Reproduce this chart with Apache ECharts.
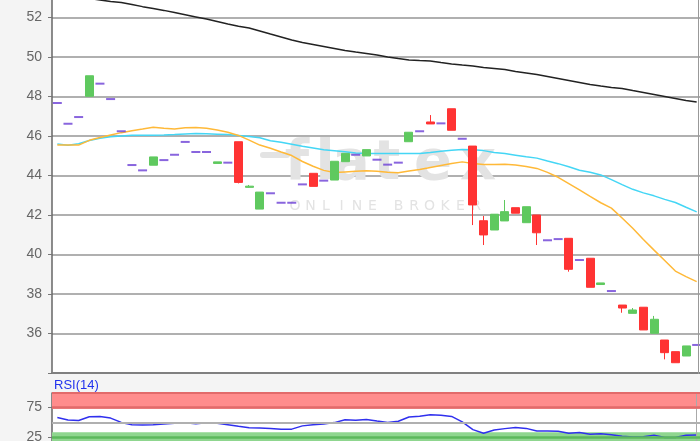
<!DOCTYPE html>
<html><head><meta charset="utf-8">
<script src="https://cdn.jsdelivr.net/npm/echarts@6/dist/echarts.min.js"></script>
<style>html,body{margin:0;padding:0;background:#f4f4f4}#c{width:700px;height:441px}</style>
</head><body><div id="c"></div>
<script>
const categories = ['D01','D02','D03','D04','D05','D06','D07','D08','D09','D10','D11','D12','D13','D14','D15','D16','D17','D18','D19','D20','D21','D22','D23','D24','D25','D26','D27','D28','D29','D30','D31','D32','D33','D34','D35','D36','D37','D38','D39','D40','D41','D42','D43','D44','D45','D46','D47','D48','D49','D50','D51','D52','D53','D54','D55','D56','D57','D58','D59','D60','D61'];
const opens  = [47.67,46.62,46.96,48.01,48.65,47.87,46.24,44.53,44.26,44.52,44.78,45.05,45.70,45.19,45.19,44.61,44.65,45.71,43.40,42.30,43.10,42.62,42.62,43.55,44.11,43.74,43.77,44.70,45.05,44.99,44.80,44.55,44.65,45.71,46.24,46.71,46.64,47.38,45.86,45.49,41.71,41.24,41.70,42.37,41.61,42.00,40.72,40.78,40.82,39.72,39.81,38.48,38.15,37.44,37.02,37.33,36.01,35.67,35.08,34.86,35.42];
const closes = [47.67,46.62,46.96,49.05,48.65,47.87,46.24,44.53,44.26,44.94,44.78,45.05,45.70,45.19,45.19,44.69,44.65,43.65,43.46,43.16,43.10,42.62,42.62,43.55,43.45,43.74,44.72,45.12,45.05,45.31,44.80,44.55,44.65,46.19,46.24,46.61,46.64,46.29,45.86,42.51,40.99,42.04,42.17,42.09,42.42,41.10,40.72,40.78,39.25,39.72,38.34,38.56,38.15,37.29,37.19,36.18,36.72,35.03,34.52,35.37,35.42];
const lows   = [47.67,46.62,46.96,48.01,48.65,47.87,46.24,44.53,44.26,44.52,44.78,45.05,45.70,45.19,45.19,44.61,44.65,43.60,43.38,42.30,43.10,42.62,42.62,43.55,43.45,43.74,43.77,44.70,45.05,44.99,44.80,44.55,44.65,45.71,46.24,46.61,46.64,46.29,45.86,41.49,40.48,41.24,41.70,42.09,41.61,40.48,40.72,40.78,39.13,39.72,38.34,38.48,38.15,37.05,37.02,36.18,36.01,34.69,34.52,34.86,35.42];
const highs  = [47.67,46.62,46.96,49.05,48.65,47.87,46.24,44.53,44.26,44.94,44.78,45.05,45.70,45.19,45.19,44.69,44.65,45.71,43.52,43.16,43.10,42.62,42.62,43.55,44.11,43.74,44.72,45.12,45.05,45.31,44.80,44.55,44.65,46.19,46.24,47.06,46.64,47.38,45.86,45.49,41.95,42.04,42.76,42.37,42.42,42.00,40.72,40.78,40.82,39.72,39.81,38.56,38.15,37.44,37.29,37.33,36.89,35.67,35.08,35.37,35.42];
const maLong = [53.19,53.11,53.04,52.96,52.89,52.81,52.76,52.66,52.55,52.46,52.36,52.25,52.14,52.03,51.92,51.80,51.67,51.56,51.47,51.32,51.16,51.01,50.86,50.73,50.63,50.53,50.43,50.33,50.25,50.18,50.10,50.00,49.92,49.85,49.82,49.80,49.72,49.65,49.59,49.54,49.47,49.42,49.37,49.27,49.19,49.11,49.01,48.91,48.81,48.71,48.61,48.53,48.46,48.41,48.30,48.20,48.10,48.00,47.90,47.80,47.72];
const maMid  = [45.59,45.53,45.61,45.77,45.89,45.96,46.00,46.04,46.04,46.04,46.05,46.07,46.10,46.13,46.11,46.09,46.07,46.03,45.97,45.91,45.76,45.68,45.58,45.48,45.39,45.30,45.25,45.20,45.14,45.12,45.11,45.11,45.12,45.12,45.12,45.17,45.23,45.28,45.32,45.30,45.26,45.16,45.11,45.03,44.95,44.88,44.73,44.60,44.44,44.27,44.16,44.03,43.79,43.54,43.30,43.12,42.97,42.79,42.63,42.39,42.16];
const maShort= [45.54,45.54,45.54,45.78,45.92,46.05,46.17,46.27,46.35,46.44,46.39,46.35,46.42,46.43,46.39,46.30,46.19,46.03,45.79,45.54,45.38,45.19,45.01,44.71,44.47,44.26,44.15,44.18,44.21,44.24,44.21,44.16,44.14,44.23,44.30,44.41,44.51,44.61,44.69,44.61,44.56,44.56,44.57,44.53,44.46,44.36,44.16,43.91,43.59,43.27,42.94,42.62,42.35,41.85,41.33,40.76,40.22,39.70,39.16,38.88,38.63];
const rsi14  = [58.1,53.9,53.0,59.3,59.8,57.1,49.7,45.7,45.4,45.7,46.8,48.2,49.0,47.6,49.2,48.3,45.9,43.1,40.5,40.0,39.3,37.9,38.2,43.8,45.6,47.1,49.4,54.4,53.4,54.6,52.0,49.6,51.7,59.0,60.4,62.8,61.9,60.0,50.6,37.4,31.1,36.7,39.1,40.9,39.5,34.9,34.9,34.6,31.1,32.5,29.4,30.4,28.8,26.2,24.8,25.2,28.0,24.0,24.0,27.6,28.0];
const priceTicks = [36,38,40,42,44,46,48,50,52];
const rsiTicks = [25,75];
const rsiOverbought = [73,100];
const rsiOversold = [0,33];

const candleData = [], flatData = [];
for (let i = 0; i < categories.length; i++) {
  const flat = opens[i] === closes[i] && lows[i] === highs[i] && opens[i] === lows[i];
  if (flat) { candleData.push(['-','-','-','-']); flatData.push(opens[i]); }
  else { candleData.push([opens[i], closes[i], lows[i], highs[i]]); flatData.push('-'); }
}

const wm = '#e3e3e3';
const graphics = [];
const logo = [['f',297],['l',325],['a',351],['t',387],['e',433],['x',478]];
logo.forEach(([ch,x]) => graphics.push({type:'text', z:1, silent:true, style:{text:ch, x:x, y:164, fill:wm, font:'bold 56px "DejaVu Sans"', align:'center', verticalAlign:'middle'}}));
graphics.push({type:'rect', z:1, silent:true, shape:{x:260,y:152,width:30,height:6,r:3}, style:{fill:wm}});
let sx = 295;
for (const ch of 'ONLINE BROKER') {
  if (ch !== ' ') graphics.push({type:'text', z:1, silent:true, style:{text:ch, x:sx, y:206, fill:wm, font:'14px "DejaVu Sans"', align:'center', verticalAlign:'middle'}});
  sx += ch === ' ' ? 10.5 : 15.5;
}
graphics.push({type:'text', z:5, silent:true, style:{text:'RSI(14)', x:54, y:385, fill:'#2233ee', font:'13px "Liberation Sans"', align:'left', verticalAlign:'middle'}});
graphics.push({type:'line', z:5, silent:true, shape:{x1:698.5,y1:0,x2:698.5,y2:374}, style:{stroke:'#999',lineWidth:1}});
graphics.push({type:'line', z:5, silent:true, shape:{x1:696.5,y1:393,x2:696.5,y2:441}, style:{stroke:'#aaa',lineWidth:1}});

const chart = echarts.init(document.getElementById('c'), null, {renderer:'canvas'});
chart.setOption({
  animation:false,
  backgroundColor:'#f4f4f4',
  graphic: graphics,
  grid:[
    {left:52, right:-2, top:-22, height:395, show:true, backgroundColor:'#ffffff', borderWidth:0, containLabel:false, outerBoundsMode:'none'},
    {left:52, right:-2, top:393, height:58.5, show:true, backgroundColor:'#ffffff', borderWidth:0, containLabel:false, outerBoundsMode:'none'}
  ],
  xAxis:[
    {type:'category', gridIndex:0, data:categories, boundaryGap:true, axisLine:{show:true, onZero:false, lineStyle:{color:'#808080', width:2}}, axisTick:{show:false}, axisLabel:{show:false}, splitLine:{show:false}},
    {type:'category', gridIndex:1, data:categories, boundaryGap:true, axisLine:{show:false}, axisTick:{show:false}, axisLabel:{show:false}, splitLine:{show:false}}
  ],
  yAxis:[
    {type:'value', gridIndex:0, min:34, max:54, interval:2, axisLine:{show:true, onZero:false, lineStyle:{color:'#666', width:1.5}},
     axisTick:{show:true, length:4, lineStyle:{color:'#777'}},
     axisLabel:{customValues:priceTicks, color:'#666', fontSize:14, margin:10, fontFamily:'Liberation Sans'},
     splitLine:{show:true, lineStyle:{color:'#b0b0b0', width:2}}},
    {type:'value', gridIndex:1, min:0, max:100, interval:25, axisLine:{show:true, onZero:false, lineStyle:{color:'#666', width:1.5}},
     axisTick:{show:true, length:4, customValues:rsiTicks, lineStyle:{color:'#777'}},
     axisLabel:{customValues:rsiTicks, color:'#666', fontSize:14, margin:10, fontFamily:'Liberation Sans'},
     splitLine:{show:false}}
  ],
  series:[
    {type:'line', xAxisIndex:0, yAxisIndex:0, data:maLong, showSymbol:false, smooth:false, z:2, lineStyle:{color:'#222', width:1.5}},
    {type:'line', xAxisIndex:0, yAxisIndex:0, data:maMid, showSymbol:false, z:2, lineStyle:{color:'#44d6f5', width:1.5}},
    {type:'line', xAxisIndex:0, yAxisIndex:0, data:maShort, showSymbol:false, z:2, lineStyle:{color:'#ffb938', width:1.5}},
    {type:'candlestick', xAxisIndex:0, yAxisIndex:0, data:candleData, barWidth:8.5, z:3,
     itemStyle:{color:'#5fc95f', color0:'#ff3333', borderColor:'#5fc95f', borderColor0:'#ff3333', borderWidth:1}},
    {type:'scatter', xAxisIndex:0, yAxisIndex:0, data:flatData, symbol:'rect', symbolSize:[9,2], z:3, itemStyle:{color:'#6b3fd6'}},
    {type:'line', xAxisIndex:1, yAxisIndex:1, data:rsi14, showSymbol:false, z:4, lineStyle:{color:'#3030ee', width:1.5},
     markArea:{silent:true, data:[
       [{yAxis:rsiOverbought[0], itemStyle:{color:'#ff8c8c'}},{yAxis:rsiOverbought[1]}],
       [{yAxis:rsiOversold[0], itemStyle:{color:'#8fd68f'}},{yAxis:rsiOversold[1]}]
     ]},
     markLine:{silent:true, symbol:'none', label:{show:false}, data:[
       {yAxis:50, lineStyle:{color:'#b0b0b0', width:2, type:'solid'}},
       {yAxis:75, lineStyle:{color:'#e26a6a', width:2.5, type:'solid'}},
       {yAxis:100, lineStyle:{color:'#e26a6a', width:2, type:'solid'}},
       {yAxis:24.5, lineStyle:{color:'#5cb85c', width:2.5, type:'solid'}}
     ]}}
  ]
});
</script></body></html>
